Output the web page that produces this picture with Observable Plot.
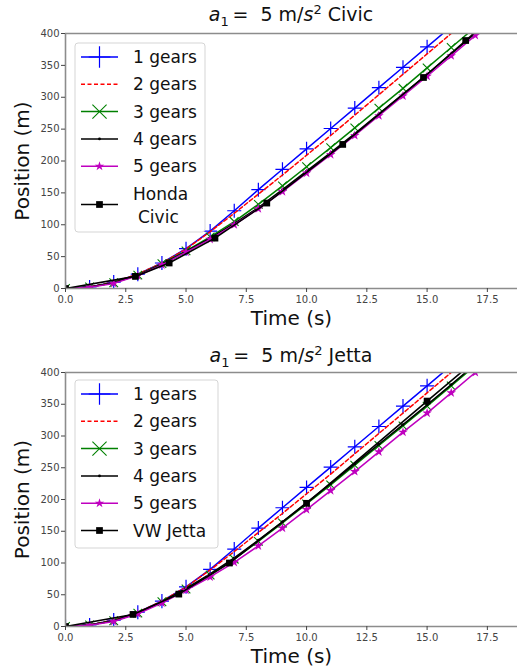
<!DOCTYPE html>
<html>
<head>
<meta charset="utf-8">
<script src="https://cdn.jsdelivr.net/npm/d3@7"></script>
<script src="https://cdn.jsdelivr.net/npm/@observablehq/plot@0.6"></script>
<style>
  html, body { margin: 0; padding: 0; background: #fff; }
  body { width: 517px; height: 672px; overflow: hidden; font-family: "DejaVu Sans", sans-serif; }
  .title { width: 517px; box-sizing: border-box; padding-left: 65px; text-align: center; font-size: 19px; line-height: 20px; color: #111; white-space: nowrap; }
  .title sub, .title sup { line-height: 0; font-size: 13px; }
  svg { display: block; }
  svg [aria-label="x-axis label"] text, svg [aria-label="y-axis label"] text { font-size: 20px; fill: #111; }
</style>
</head>
<body>
<div id="chart"></div>
<script>
// ---- data ----
const times = [0, 1, 2, 3, 4, 5, 6, 7, 8, 9, 10, 11, 12, 13, 14, 15, 16, 17];
const xTicks = [0, 2.5, 5, 7.5, 10, 12.5, 15, 17.5];
const yTicks = [0, 50, 100, 150, 200, 250, 300, 350, 400];
const seriesNames = ["1 gears", "2 gears", "3 gears", "4 gears", "5 gears"];

// Civic panel
const civicGear1 = [0, 2.5, 10, 22.5, 40, 62.5, 90, 122, 155, 187, 219, 251, 283, 315, 347, 379, 411, 443];
const civicGear2 = [0, 2.5, 10, 22.5, 40, 62, 89, 118, 148, 178, 209, 240, 272, 304, 336, 368, 400, 432];
const civicGear3 = [0, 2.5, 9, 21, 39, 59, 81, 105, 132, 161, 191, 221, 252, 283, 314, 346, 378, 410];
const civicGear4 = [0, 2.5, 9, 21, 38, 58, 79, 102, 127, 155, 184, 213, 243, 274, 305, 336, 368, 400];
const civicGear5 = [0, 2, 8, 20, 37, 57, 77, 100, 125, 152, 181, 210, 240, 271, 302, 333, 365, 397];
const civicTimes = [0, 2.9, 4.3, 6.2, 8.35, 11.5, 14.85, 16.6, 18];
const civicPos = [0, 19, 40, 79, 134, 226, 331, 389, 435];

// Jetta panel
const jettaGear1 = [0, 2.5, 10, 22.5, 40, 62.5, 90, 122, 155, 187, 219, 251, 283, 315, 347, 379, 411, 443];
const jettaGear2 = [0, 2.5, 10, 22.5, 40, 62, 89, 118, 148, 178, 209, 240, 272, 304, 336, 368, 400, 432];
const jettaGear3 = [0, 2.5, 9, 21, 39, 59, 81, 106, 134, 163, 193, 223, 254, 285, 316, 347, 379, 411];
const jettaGear4 = [0, 2.5, 9, 21, 39, 60, 83, 108, 136, 165, 195, 225, 256, 287, 318, 349, 381, 413];
const jettaGear5 = [0, 2, 8, 20, 37, 57, 78, 101, 127, 155, 184, 214, 244, 275, 306, 336, 368, 400];
const jettaTimes = [0, 2.8, 4.7, 6.8, 10, 15, 17.5];
const jettaPos = [0, 19, 51, 100, 194, 355, 435];

// ---- styles ----
const styles = [
  {color: "#0000ff", dash: null, symbol: "plus", r: 4.6, fill: "none", sw: 1.2},
  {color: "#ff0000", dash: "4,2.5", symbol: null},
  {color: "#008000", dash: null, symbol: "times", r: 4, fill: "none", sw: 1.1},
  {color: "#000000", dash: null, symbol: "circle", r: 1.4, fill: "#000000", sw: 0},
  {color: "#bf00bf", dash: null, symbol: "star", r: 3, fill: "#bf00bf", sw: 0},
];
const carStyle = {color: "#000000", symbol: "square", r: 3.8};

function rows(xs, ys) { return xs.map((x, i) => ({x, y: ys[i]})); }

function makePanel(cfg) {
  const marks = [];
  cfg.gears.forEach((g, k) => {
    const st = styles[k];
    const d = rows(times, g);
    marks.push(Plot.line(d, {x: "x", y: "y", stroke: st.color, strokeWidth: 1.5, strokeDasharray: st.dash, clip: true}));
    if (st.symbol) {
      marks.push(Plot.dot(d, {x: "x", y: "y", symbol: st.symbol, r: st.r, stroke: st.sw ? st.color : "none", fill: st.fill, strokeWidth: st.sw, clip: true}));
    }
  });
  const car = rows(cfg.carT, cfg.carP);
  marks.push(Plot.line(car, {x: "x", y: "y", stroke: carStyle.color, strokeWidth: 1.6, clip: true}));
  marks.push(Plot.dot(car, {x: "x", y: "y", symbol: "square", r: carStyle.r, fill: "#000", stroke: "none", clip: true}));
  // spines
  marks.push(Plot.ruleX([0], {stroke: "#8c8c8c", strokeWidth: 1.6}));
  marks.push(Plot.ruleY([0, 400], {stroke: "#8c8c8c", strokeWidth: 1.6}));
  marks.push(Plot.axisX({ticks: xTicks, tickFormat: d3.format(".1f"), tickSize: 4, tickPadding: 3, stroke: "#444", label: "Time (s)", labelAnchor: "center", labelArrow: "none", labelOffset: cfg.xLabelOffset, fontSize: 10, color: "#444"}));
  marks.push(Plot.axisY({ticks: yTicks, tickSize: 4, tickPadding: 2, stroke: "#444", label: "Position (m)", labelAnchor: "center", labelArrow: "none", labelOffset: 51, fontSize: 10, color: "#444"}));

  const svg = Plot.plot({
    width: 517,
    height: cfg.height,
    marginLeft: 65,
    marginRight: 0,
    marginTop: cfg.marginTop,
    marginBottom: cfg.marginBottom,
    style: {fontFamily: "DejaVu Sans, sans-serif", fontSize: "10px", color: "#444", background: "white", overflow: "visible"},
    x: {domain: [0, 18.75]},
    y: {domain: [0, 400]},
    marks
  });

  // legend (inside plot area, upper left)
  const lg = d3.select(svg).append("g").attr("class", "legend").attr("text-anchor", "start");
  lg.append("rect").attr("x", 75).attr("y", cfg.legendTop).attr("width", cfg.legendW).attr("height", cfg.legendH)
    .attr("rx", 3).attr("fill", "white").attr("fill-opacity", 0.85).attr("stroke", "#d5d5d5").attr("stroke-width", 1);
  const symMap = {plus: d3.symbolPlus, times: d3.symbolTimes, circle: d3.symbolCircle, star: d3.symbolStar, square: d3.symbolSquare};
  const entries = seriesNames.map((n, k) => ({label: [n], st: styles[k]}));
  entries.push({label: cfg.carLabel, st: {color: "#000", symbol: "square", r: carStyle.r, fill: "#000", sw: 0}, car: true});
  let y = cfg.legendTop + 14;
  entries.forEach((e, k) => {
    const cy = e.label.length > 1 ? y + 11 : y;
    lg.append("line").attr("x1", 81).attr("x2", 118).attr("y1", cy).attr("y2", cy)
      .attr("stroke", e.st.color).attr("stroke-width", 1.5).attr("stroke-dasharray", e.st.dash || null);
    if (e.st.symbol) {
      const rr = e.st.symbol === "plus" ? 7 : e.st.symbol === "times" ? 6.5 : e.st.r;
      const size = Math.PI * rr * rr;
      lg.append("path").attr("d", d3.symbol(symMap[e.st.symbol], size)())
        .attr("transform", `translate(99.5,${cy})`)
        .attr("fill", e.st.fill).attr("stroke", e.st.sw ? e.st.color : "none").attr("stroke-width", e.st.sw || null);
    }
    e.label.forEach((t, j) => {
      lg.append("text").attr("x", 133 + (j > 0 ? 5 : 0)).attr("y", y + j * 23).attr("dy", "0.36em")
        .attr("text-anchor", "start")
        .attr("font-size", 17).attr("fill", "#111").attr("font-family", "DejaVu Sans, sans-serif").text(t);
    });
    y += 27.3;
  });
  return svg;
}

const root = document.getElementById("chart");

function addTitle(carName, padTop, h) {
  const div = document.createElement("div");
  div.className = "title";
  div.style.height = h + "px";
  div.style.boxSizing = "border-box";
  div.style.paddingTop = padTop + "px";
  div.innerHTML = `<i>a</i><sub>1</sub>&thinsp;= &nbsp;5 m/<i>s</i><sup>2</sup> ${carName}`;
  root.appendChild(div);
}

addTitle("Civic", 4, 26);
root.appendChild(makePanel({
  gears: [civicGear1, civicGear2, civicGear3, civicGear4, civicGear5],
  carT: civicTimes, carP: civicPos, carLabel: ["Honda", "Civic"],
  height: 310, marginTop: 7, marginBottom: 48, xLabelOffset: 36,
  legendTop: 17, legendW: 130, legendH: 189
}));
addTitle("Jetta", 9, 30);
root.appendChild(makePanel({
  gears: [jettaGear1, jettaGear2, jettaGear3, jettaGear4, jettaGear5],
  carT: jettaTimes, carP: jettaPos, carLabel: ["VW Jetta"],
  height: 306, marginTop: 6, marginBottom: 46, xLabelOffset: 36,
  legendTop: 14, legendW: 143, legendH: 168
}));
</script>
</body>
</html>
